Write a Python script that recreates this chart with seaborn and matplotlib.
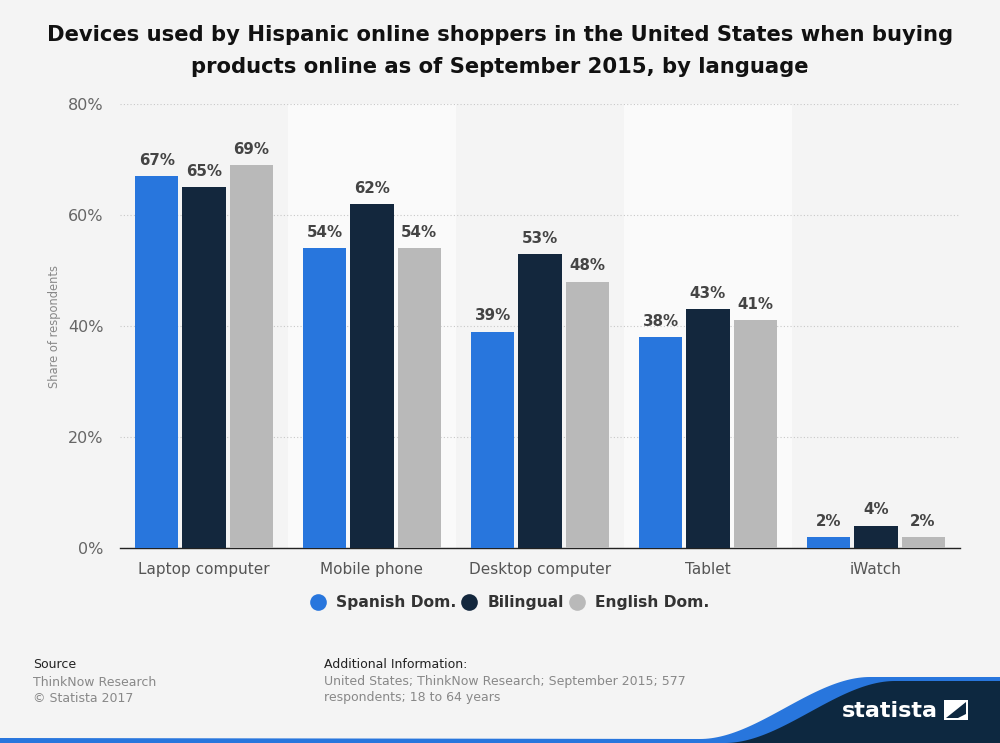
import matplotlib
matplotlib.use("Agg")
import matplotlib.pyplot as plt
import seaborn as sns
import pandas as pd
import numpy as np
from matplotlib.patches import Rectangle, Polygon
from matplotlib.lines import Line2D

categories = ["Laptop computer", "Mobile phone", "Desktop computer", "Tablet", "iWatch"]
series_names = ["Spanish Dom.", "Bilingual", "English Dom."]
spanish = [67, 54, 39, 38, 2]
bilingual = [65, 62, 53, 43, 4]
english = [69, 54, 48, 41, 2]
colors = ["#2876dd", "#13273d", "#b9b9b9"]
yticks = [0, 20, 40, 60, 80]
ytick_labels = ["0%", "20%", "40%", "60%", "80%"]

rows = []
for name, vals in zip(series_names, [spanish, bilingual, english]):
    for c, v in zip(categories, vals):
        rows.append({"Device": c, "Language": name, "Share": v})
df = pd.DataFrame(rows)

sns.set_theme(style="white")
FAM = "DejaVu Sans"
plt.rcParams['font.family'] = ['sans-serif']
plt.rcParams['font.sans-serif'] = [FAM]

BG = "#f4f4f4"
fig = plt.figure(figsize=(10, 7.43), dpi=100, facecolor=BG)
ax = fig.add_axes([0.12, 1 - 548 / 743, 0.84, (548 - 104) / 743])
ax.set_facecolor(BG)

# alternating bands
for i in range(len(categories)):
    if i % 2 == 1:
        ax.axvspan(i - 0.5, i + 0.5, color="#fafafa", zorder=0, lw=0)

sns.barplot(data=df, x="Device", y="Share", hue="Language", order=categories,
            hue_order=series_names, palette=colors, width=0.84, gap=0.085,
            saturation=1, ax=ax, legend=False, zorder=3, linewidth=0)

for cont in ax.containers:
    ax.bar_label(cont, labels=[f"{int(v)}%" for v in cont.datavalues], padding=6,
                 fontsize=10.8, fontweight="bold", color="#444444", family=FAM)

ax.set_xlim(-0.5, len(categories) - 0.5)
ax.set_ylim(0, 80)
ax.set_yticks(yticks)
ax.set_yticklabels(ytick_labels, family=FAM)
ax.set_xticks(range(len(categories)))
ax.set_xticklabels(categories, family=FAM)
ax.yaxis.grid(True, linestyle=(0, (1, 2)), color="#c8c8c8", linewidth=0.8, zorder=1)
ax.set_axisbelow(True)
for s in ["top", "right", "left"]:
    ax.spines[s].set_visible(False)
ax.spines["bottom"].set_color("#222222")
ax.spines["bottom"].set_linewidth(1.0)
ax.tick_params(axis="y", length=0, labelsize=11.5, labelcolor="#666666", pad=12)
ax.tick_params(axis="x", length=0, labelsize=11, labelcolor="#555555", pad=10)
ax.set_xlabel("")
ax.set_ylabel("Share of respondents", fontsize=8.3, color="#888888", family=FAM)
ax.yaxis.set_label_coords(-0.07, 0.5)

# title
fig.text(0.5, 1 - 35 / 743, "Devices used by Hispanic online shoppers in the United States when buying",
         ha="center", va="center", fontsize=15.2, fontweight="bold", color="#111111", family=FAM)
fig.text(0.5, 1 - 67 / 743, "products online as of September 2015, by language",
         ha="center", va="center", fontsize=15.2, fontweight="bold", color="#111111", family=FAM)

# legend
handles = [Line2D([0], [0], marker="o", linestyle="", markersize=12, markerfacecolor=c,
                  markeredgewidth=0) for c in colors]
fig.legend(handles, series_names, loc="center", bbox_to_anchor=(0.506, 1 - 603 / 743),
           ncol=3, frameon=False, handletextpad=0.2, columnspacing=-0.2,
           prop={"weight": "bold", "size": 11.2, "family": FAM}, labelcolor="#333333")

# footer
fk = dict(fontsize=9, va="center", family=FAM)
fig.text(0.033, 1 - 665 / 743, "Source", color="#222222", **fk)
fig.text(0.033, 1 - 682 / 743, "ThinkNow Research", color="#888888", **fk)
fig.text(0.033, 1 - 698 / 743, "© Statista 2017", color="#888888", **fk)
fig.text(0.324, 1 - 665 / 743, "Additional Information:", color="#222222", **fk)
fig.text(0.324, 1 - 682 / 743, "United States; ThinkNow Research; September 2015; 577",
         color="#888888", **fk)
fig.text(0.324, 1 - 698 / 743, "respondents; 18 to 64 years", color="#888888", **fk)

# statista logo band
W, H = 1000, 743
def fy(py):
    return 1 - py / H
xs = np.linspace(700, 870, 60)
t = (xs - 700) / 170
curve_y = 739 - (739 - 677) * (3 * t**2 - 2 * t**3)
blue_pts = [(0, fy(743)), (0, fy(738))] + [(x / W, fy(y)) for x, y in zip(xs, curve_y)] + \
    [(1, fy(677)), (1, fy(743))]
fig.patches.append(Polygon(blue_pts, closed=True, transform=fig.transFigure,
                           facecolor="#2876dd", edgecolor="none", zorder=5))
curve_y2 = 743 - (743 - 681) * (3 * t**2 - 2 * t**3)
xs2 = xs + 25
navy_pts = [(xs2[0] / W, fy(743))] + [(x / W, fy(y)) for x, y in zip(xs2, curve_y2)] + \
    [(1, fy(681)), (1, fy(743))]
fig.patches.append(Polygon(navy_pts, closed=True, transform=fig.transFigure,
                           facecolor="#0d2840", edgecolor="none", zorder=6))
fig.text(0.842, fy(711), "statista", fontsize=16, fontweight="bold", color="white",
         va="center", ha="left", zorder=7, family=FAM)
fig.patches.append(Rectangle((944 / W, fy(720)), 24 / W, 20 / H, transform=fig.transFigure,
                             facecolor="white", edgecolor="none", zorder=7))
fig.patches.append(Polygon([(946 / W, fy(718)), (966 / W, fy(702)), (966 / W, fy(714)), (958 / W, fy(718))],
                           closed=True, transform=fig.transFigure, facecolor="#0d2840",
                           edgecolor="none", zorder=8))

fig.savefig("out.png", dpi=100, facecolor=BG)
